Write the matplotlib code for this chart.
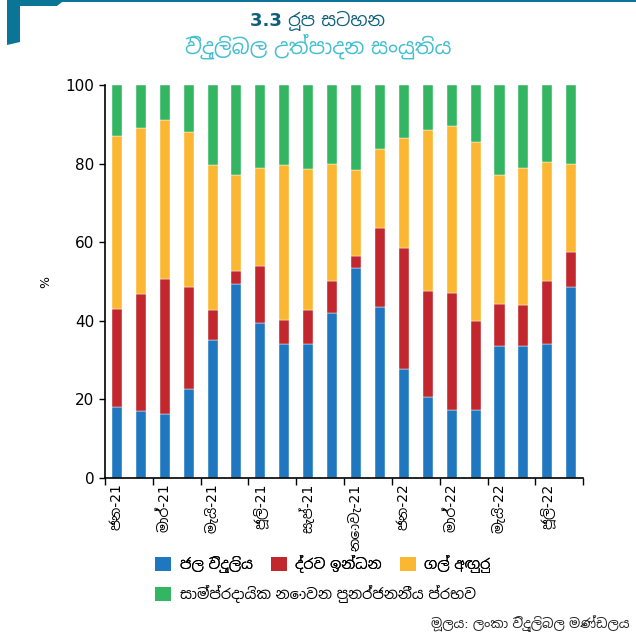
import matplotlib
matplotlib.use("Agg")
import matplotlib.pyplot as plt
import matplotlib.font_manager as fm
from matplotlib.ft2font import FT2Font
from matplotlib.patches import Polygon, Patch
import numpy as np

# ---------------- data ----------------
months = ["ජන-21", "පෙබ-21", "මාර්-21", "අප්රේ-21", "මැයි-21", "ජූනි-21", "ජූලි-21", "අගෝ-21",
          "සැප්-21", "ඔක්-21", "නොවැ-21", "දෙසැ-21", "ජන-22", "පෙබ-22", "මාර්-22", "අප්රේ-22",
          "මැයි-22", "ජූනි-22", "ජූලි-22", "අගෝ-22"]
tick_labels = ["ජන-21", "මාර්-21", "මැයි-21", "ජූලි-21", "සැප්-21", "නොවැ-21",
               "ජන-22", "මාර්-22", "මැයි-22", "ජූලි-22"]
hydro = [18.0, 17.0, 16.3, 22.6, 35.0, 49.3, 39.5, 34.0, 34.0, 42.0,
         53.5, 43.5, 27.8, 20.5, 17.3, 17.3, 33.5, 33.5, 34.0, 48.7]
oil = [25.0, 29.7, 34.4, 26.1, 7.8, 3.5, 14.5, 6.3, 8.8, 8.2,
       3.0, 20.0, 30.8, 27.2, 29.7, 22.6, 10.9, 10.4, 16.1, 8.8]
coal = [44.0, 42.3, 40.3, 39.3, 36.8, 24.2, 25.0, 39.3, 35.8, 29.8,
        22.0, 20.2, 27.9, 40.8, 42.6, 45.5, 32.6, 35.1, 30.4, 22.5]
ncre = [13.0, 11.0, 9.0, 12.0, 20.4, 23.0, 21.0, 20.4, 21.4, 20.0,
        21.5, 16.3, 13.5, 11.5, 10.4, 14.6, 23.0, 21.0, 19.5, 20.0]
series_names = ["ජල විදුලිය", "ද්රව ඉන්ධන", "ගල් අඟුරු", "සාම්ප්රදායික නොවන පුනර්ජනනීය ප්රභව"]
title1 = "3.3 රූප සටහන"
title2 = "විදුලිබල උත්පාදන සංයුතිය"
source = "මූලය: ලංකා විදුලිබල මණ්ඩලය"
y_ticks = [0, 20, 40, 60, 80, 100]

# ---------------- fonts ----------------
cands = []
for f in fm.fontManager.ttflist:
    try:
        cmap = FT2Font(f.fname).get_charmap()
        if 0x0DA2 in cmap and 0x0DC0 in cmap:
            cands.append(f)
    except Exception:
        pass


def score(f):
    n = (f.name + " " + f.fname).lower()
    s = 0
    if "mono" in n:
        s += 10
    if "serif" in n and "sans" not in n:
        s += 3
    if "sans" in n:
        s -= 2
    if f.weight not in (400, "normal", "regular"):
        s += 1
    return s


cands.sort(key=score)
sinhala_family = cands[0].name if cands else None
families = ["DejaVu Sans"] + ([sinhala_family] if sinhala_family else [])
plt.rcParams["font.family"] = families

colors = ["#1f77bf", "#c1272d", "#fbb632", "#33b561"]

fig = plt.figure(figsize=(6.36, 6.42), dpi=100)
ax = fig.add_axes([0.165, 0.2555, 0.752, 0.612])

x = np.arange(len(months))
w = 0.42
bottom = np.zeros(len(months))
for vals, c in zip([hydro, oil, coal, ncre], colors):
    v = np.array(vals)
    ax.bar(x, v, w, bottom=bottom, color=c, edgecolor="#ffffff", linewidth=0.3)
    bottom += v

ax.set_ylim(0, 100)
ax.set_xlim(-0.5, 19.4)
ax.set_yticks(y_ticks)
ax.tick_params(axis="y", labelsize=11, length=4, width=1)
ax.set_xticks(np.arange(-0.5, 20, 2), minor=False)
ax.set_xticklabels([])
ax.tick_params(axis="x", which="major", length=5, width=1)
ax.set_xticks(np.arange(0, 20, 2), minor=True)
ax.set_xticklabels(tick_labels, minor=True, rotation=90, fontsize=10)
ax.tick_params(axis="x", which="minor", length=0, pad=4)
for s in ["top", "right"]:
    ax.spines[s].set_visible(False)
for s in ["left", "bottom"]:
    ax.spines[s].set_linewidth(1.2)
ax.set_ylabel("%", fontsize=9, labelpad=10)

# titles
fig.text(0.5, 0.968, title1, ha="center", va="center", fontsize=13,
         fontweight="bold", color="#0d5f7d")
fig.text(0.5, 0.928, title2, ha="center", va="center", fontsize=15, color="#45bfcf")

# decoration
deco = "#0a7595"
fig.patches.append(Polygon([[7, 642], [636, 642], [636, 640], [62, 640], [57, 636],
                            [20, 636], [20, 600], [7, 597]],
                           closed=True, transform=None, facecolor=deco,
                           edgecolor="none"))

# legends
h = [Patch(facecolor=c) for c in colors]
leg1 = fig.legend(h[:3], series_names[:3], ncol=3, loc="upper left",
                  bbox_to_anchor=(0.235, 0.145), frameon=False, fontsize=10.5,
                  handlelength=1.1, handleheight=1.1, handletextpad=0.6,
                  columnspacing=1.2, borderaxespad=0)
fig.add_artist(leg1)
fig.legend(h[3:], series_names[3:], loc="upper left",
           bbox_to_anchor=(0.235, 0.098), frameon=False, fontsize=10.5,
           handlelength=1.1, handleheight=1.1, handletextpad=0.6, borderaxespad=0)

fig.text(0.99, 0.028, source, ha="right", va="center", fontsize=9.5, color="#222222")

fig.savefig("out.png", dpi=100)
